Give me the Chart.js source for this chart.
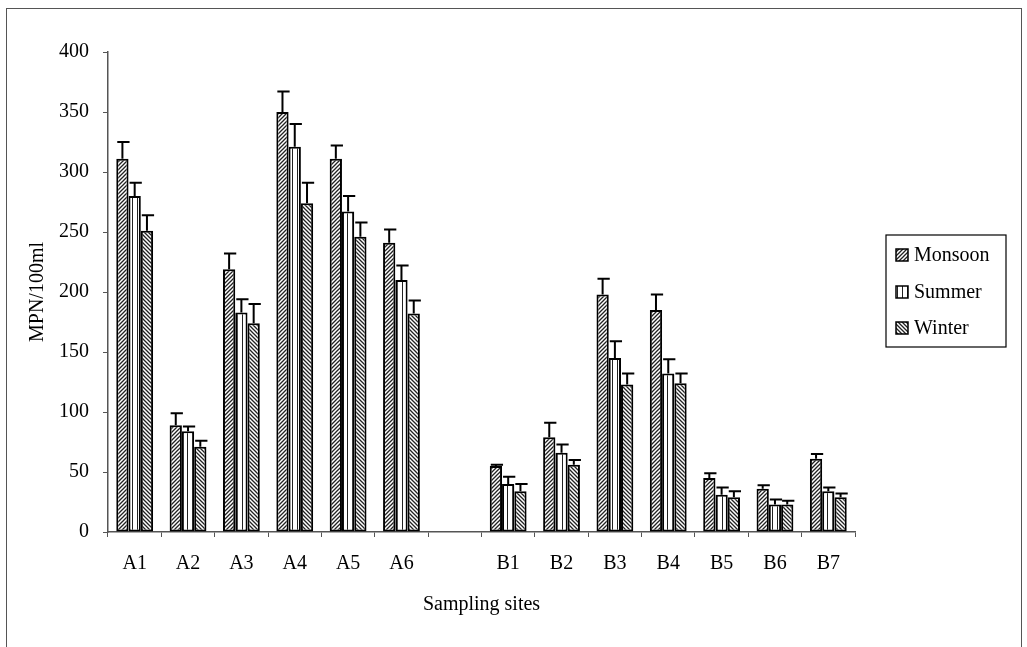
<!DOCTYPE html>
<html>
<head>
<meta charset="utf-8">
<script src="https://cdn.jsdelivr.net/npm/chart.js@4.4.0/dist/chart.umd.min.js"></script>
<style>
  html, body { margin: 0; padding: 0; background: #fff; overflow: hidden; }
  #frame { position: absolute; left: 6px; top: 8px; width: 1014px; height: 700px; border: 1px solid #555; }
  #c { position: absolute; left: 0; top: 0; }
</style>
</head>
<body>
<div id="frame"></div>
<canvas id="c" width="1027" height="647"></canvas>
<script>
const categories = ['A1','A2','A3','A4','A5','A6','','B1','B2','B3','B4','B5','B6','B7'];
const seriesNames = ['Monsoon','Summer','Winter'];
const monsoon = [311, 89, 219, 350, 311, 241, null, 55, 79, 198, 185, 45, 36, 61];
const summer  = [280, 84, 183, 321, 267, 210, null, 40, 66, 145, 132, 31, 23, 34];
const winter  = [251, 71, 174, 274, 246, 182, null, 34, 56, 123, 124, 29, 23, 29];
const monsoonErr = [14, 10, 13, 17, 11, 11, null, 1, 12, 13, 13, 4, 3, 4];
const summerErr  = [11, 4, 11, 19, 13, 12, null, 6, 7, 14, 12, 6, 4, 3];
const winterErr  = [13, 5, 16, 17, 12, 11, null, 6, 4, 9, 8, 5, 3, 3];
const yTicks = [0, 50, 100, 150, 200, 250, 300, 350, 400];

const FONT = 'Liberation Serif';
const canvas = document.getElementById('c');
const ctx = canvas.getContext('2d');

function makePattern(kind) {
  const s = kind === 'vert' ? 5 : 4;
  const c = document.createElement('canvas');
  c.width = s; c.height = s;
  const g = c.getContext('2d');
  g.fillStyle = '#fff';
  g.fillRect(0, 0, s, s);
  g.strokeStyle = '#222';
  g.lineWidth = kind === 'vert' ? 1 : 1.3;
  g.beginPath();
  if (kind === 'fwd') {
    g.moveTo(-1, s + 1); g.lineTo(s + 1, -1);
    g.moveTo(-1, 1); g.lineTo(1, -1);
    g.moveTo(s - 1, s + 1); g.lineTo(s + 1, s - 1);
  } else if (kind === 'back') {
    g.moveTo(-1, -1); g.lineTo(s + 1, s + 1);
    g.moveTo(s - 1, -1); g.lineTo(s + 1, 1);
    g.moveTo(-1, s - 1); g.lineTo(1, s + 1);
  } else {
    g.moveTo(2.5, 0); g.lineTo(2.5, s);
  }
  g.stroke();
  return ctx.createPattern(c, 'repeat');
}
const patterns = [makePattern('fwd'), makePattern('vert'), makePattern('back')];
const values = [monsoon, summer, winter];
const errors = [monsoonErr, summerErr, winterErr];

const errorBarPlugin = {
  id: 'errorBars',
  afterDatasetsDraw(chart) {
    const c = chart.ctx;
    const yScale = chart.scales.y;
    c.save();
    c.strokeStyle = '#000';
    c.lineWidth = 2;
    chart.data.datasets.forEach((ds, di) => {
      const meta = chart.getDatasetMeta(di);
      meta.data.forEach((el, i) => {
        const v = ds.data[i];
        const e = errors[di][i];
        if (v == null || e == null) return;
        const yTop = yScale.getPixelForValue(v + e);
        const yBar = yScale.getPixelForValue(v);
        const half = el.width / 2;
        c.beginPath();
        c.moveTo(el.x, yBar);
        c.lineTo(el.x, yTop);
        c.moveTo(el.x - half + 1, yTop);
        c.lineTo(el.x + half + 1, yTop);
        c.stroke();
      });
    });
    c.restore();
  }
};

const legendPlugin = {
  id: 'boxLegend',
  afterDraw(chart) {
    const c = chart.ctx;
    c.save();
    c.strokeStyle = '#000';
    c.lineWidth = 1.2;
    c.strokeRect(886, 235, 120, 112);
    const rows = [255, 292, 328];
    c.font = '20px "' + FONT + '"';
    c.textBaseline = 'middle';
    c.textAlign = 'left';
    c.fillStyle = '#000';
    chart.data.datasets.forEach((ds, i) => {
      const y = rows[i];
      c.fillStyle = patterns[i];
      c.fillRect(896, y - 6, 12, 12);
      c.lineWidth = 1.5;
      c.strokeStyle = '#000';
      c.strokeRect(896, y - 6, 12, 12);
      c.fillStyle = '#000';
      c.fillText(ds.label, 914, y + 1);
    });
    c.restore();
  }
};

new Chart(canvas, {
  type: 'bar',
  data: {
    labels: categories,
    datasets: seriesNames.map((name, i) => ({
      label: name,
      data: values[i],
      backgroundColor: patterns[i],
      borderColor: '#000',
      borderWidth: 2,
      borderSkipped: false,
      barPercentage: 1.0,
      categoryPercentage: 0.69
    }))
  },
  options: {
    responsive: false,
    animation: false,
    devicePixelRatio: 1,
    layout: { padding: { left: 0, top: 52, right: 172, bottom: 0 } },
    plugins: { legend: { display: false }, tooltip: { enabled: false } },
    scales: {
      x: {
        afterFit(scale) { scale.height = 115; },
        grid: { offset: true, drawOnChartArea: false, drawTicks: true, tickLength: 5, color: '#555', lineWidth: 1 },
        border: { display: true, color: '#555', width: 1.5 },
        ticks: { color: '#000', padding: 15, font: { family: FONT, size: 20 }, maxRotation: 0, autoSkip: false },
        title: { display: true, text: 'Sampling sites', color: '#000', font: { family: FONT, size: 20 }, padding: { top: 0, bottom: 30 } }
      },
      y: {
        min: 0, max: 400,
        afterFit(scale) { scale.width = 108; },
        afterBuildTicks(scale) { scale.ticks = yTicks.map(v => ({ value: v })); },
        grid: { drawOnChartArea: false, drawTicks: true, tickLength: 5, color: '#555', lineWidth: 1 },
        border: { display: true, color: '#555', width: 1.5 },
        ticks: { color: '#000', padding: 14, font: { family: FONT, size: 20 } },
        title: { display: true, text: 'MPN/100ml', color: '#000', font: { family: FONT, size: 20 }, padding: { top: 26, bottom: 0 } }
      }
    }
  },
  plugins: [errorBarPlugin, legendPlugin]
});
</script>
</body>
</html>
